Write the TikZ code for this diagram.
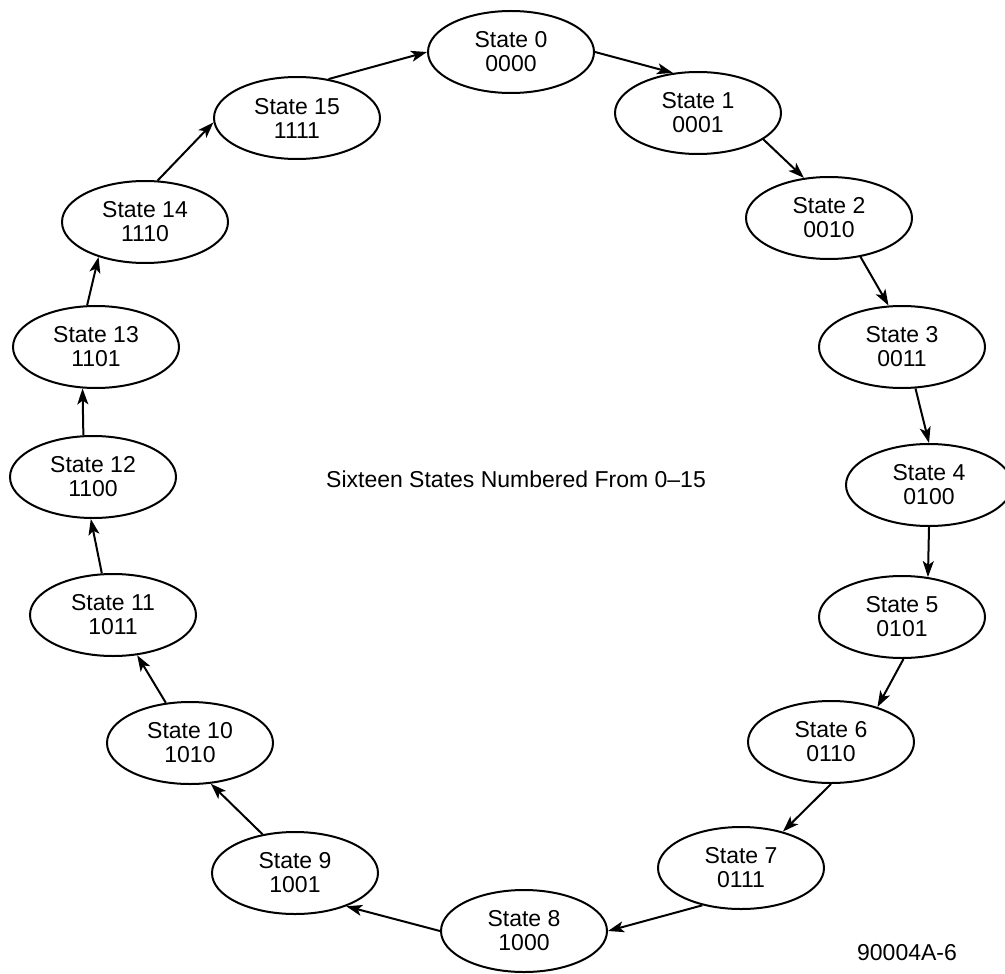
\documentclass[tikz,border=0pt]{standalone}
\usepackage{fontspec}
\setmainfont{Liberation Sans}
\usetikzlibrary{shapes.geometric,arrows.meta}

\begin{document}
\begin{tikzpicture}[x=0.5pt,y=-0.5pt, line width=1pt,
  every node/.style={font=\fontsize{11.5}{12}\selectfont, align=center},
  state/.style={ellipse, draw, inner sep=0pt, minimum width=83pt, minimum height=41pt},
  trans/.style={-{Stealth[length=8pt,width=5.5pt,inset=2pt]}}]
\useasboundingbox (0,0) rectangle (1005,973);
% the sixteen states round the ring
\foreach \n/\x/\y/\code in {0/511/52/0000, 1/698/113/0001, 2/829/218/0010, 3/902/347/0011,
  4/929/485/0100, 5/902/617/0101, 6/831/742/0110, 7/741/868/0111, 8/524/931/1000,
  9/295/873/1001, 10/190/743/1010, 11/113/615/1011, 12/93/477/1100, 13/96/347/1101,
  14/145/222/1110, 15/297/118/1111}
  \node[state] (s\n) at (\x,\y) {State \n\\\code};
% transitions
\foreach \a/\p/\b/\q in {0/0/1/122, 1/338/2/122, 2/309/3/108, 3/288/4/90,
  4/270/5/57, 5/272/6/37, 6/270/7/41, 7/224/8/0, 8/180/9/327, 9/130/10/297,
  10/121/11/301, 11/105/12/267, 12/103/13/252, 13/102/14/217, 14/73/15/183, 15/51/0/180}
  \draw[trans] (s\a.\p) -- (s\b.\q);
\node (title) at (516,479) {Sixteen States Numbered From 0--15};
\node (fig) at (907,953) {90004A-6};
\end{tikzpicture}
\end{document}
